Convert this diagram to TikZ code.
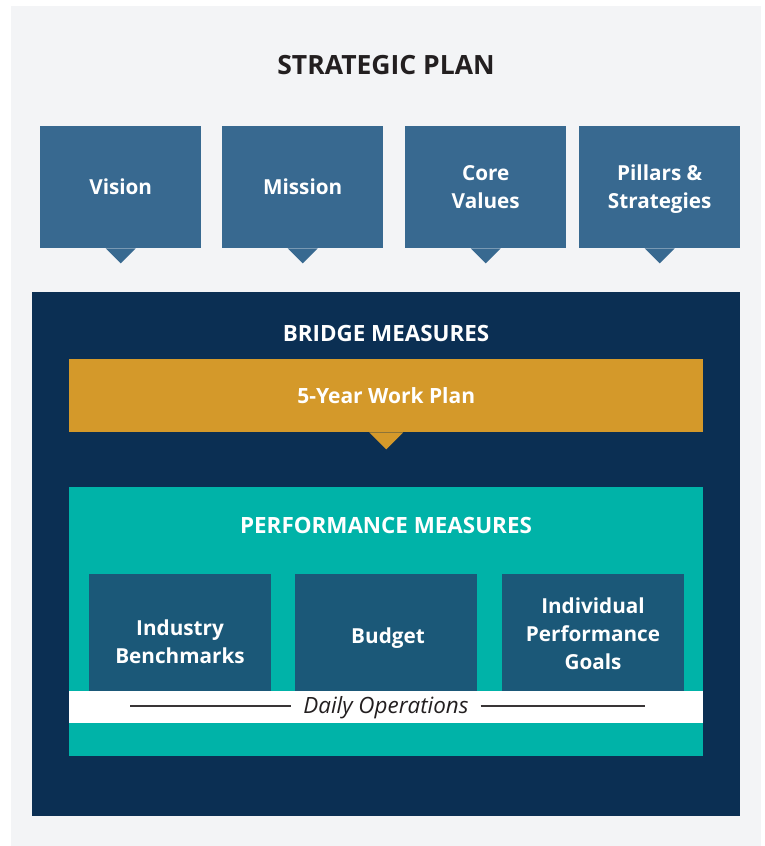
\documentclass[tikz,border=0pt]{standalone}
\usepackage{fontspec}
\setmainfont{Open Sans}
\usepackage{xcolor}

\definecolor{fonGray}{HTML}{F3F4F6}
\definecolor{topBlue}{HTML}{386990}
\definecolor{navyBlue}{HTML}{0B2F53}
\definecolor{goldPlan}{HTML}{D4992A}
\definecolor{tealPerf}{HTML}{00B3A8}
\definecolor{innerBlue}{HTML}{1B5878}
\definecolor{titleInk}{HTML}{231F20}

\begin{document}
\begin{tikzpicture}[x=1pt,y=-1pt,
    topbox/.style={fill=topBlue, anchor=north west, inner sep=0pt, minimum width=161pt, minimum height=122pt},
    perfbox/.style={fill=innerBlue, anchor=north west, inner sep=0pt, minimum width=182pt, minimum height=117pt},
    boxtext/.style={text=white, align=center, font=\bfseries\fontsize{20.7}{28}\selectfont},
    headtext/.style={text=white, font=\bfseries\fontsize{22.4}{26}\selectfont}]

        % Фон
        \useasboundingbox (0,0) rectangle (764,846);
        \fill[white] (0,0) rectangle (764,846);
        \fill[fonGray] (11,6) rectangle (761,846);

        \node[text=titleInk, font=\bfseries\fontsize{26.5}{30}\selectfont] (plan) at (386,65) {STRATEGIC PLAN};

        % Верхние блоки
        \node[topbox] (vision) at (40,126) {};
        \node[topbox] (mission) at (222,126) {};
        \node[topbox] (values) at (405,126) {};
        \node[topbox] (pillars) at (579,126) {};
        \foreach \b in {vision,mission,values,pillars}
            \fill[topBlue] ([xshift=-15pt]\b.south) -- ++(15,15) -- ++(15,-15) -- cycle;

        \node[boxtext] (tVision) at (vision.center) {Vision};
        \node[boxtext] (tMission) at (mission.center) {Mission};
        \node[boxtext] (tValues) at (values.center) {Core\\Values};
        \node[boxtext] (tPillars) at ([yshift=-2pt]pillars.center) {Pillars \&\\Strategies};

        % Промежуточные показатели
        \fill[navyBlue] (32,292) rectangle (740,816);
        \node[headtext] (bridge) at (386,333) {BRIDGE MEASURES};

        \node[fill=goldPlan, anchor=north west, inner sep=0pt, minimum width=634pt, minimum height=73pt] (work) at (69,359) {};
        \fill[goldPlan] ([xshift=-17pt]work.south) -- ++(17,17) -- ++(17,-17) -- cycle;
        \node[boxtext, font=\bfseries\fontsize{21}{26}\selectfont] (tWork) at (work.center) {5-Year Work Plan};

        % Показатели эффективности
        \fill[tealPerf] (69,487) rectangle (703,756);
        \node[headtext] (perf) at (386,525) {PERFORMANCE MEASURES};

        \node[perfbox] (bench) at (89,574) {};
        \node[perfbox] (budget) at (295,574) {};
        \node[perfbox] (goals) at (502,574) {};

        \node[boxtext] (tBench) at (180,642) {Industry\\Benchmarks};
        \node[boxtext] (tBudget) at (388,638) {Budget};
        \node[boxtext] (tGoals) at (593,634) {Individual\\Performance\\Goals};

        % Ежедневная работа
        \fill[white] (69,691) rectangle (703,723);
        \node[text=titleInk, inner xsep=12pt, font=\itshape\fontsize{22.4}{26}\selectfont] (daily) at (386,708) {Daily Operations};
        \coordinate (dLeft) at (130,706);
        \coordinate (dRight) at (645,706);
        \draw[titleInk!90, line width=1.8pt] (dLeft) -- (dLeft -| daily.west);
        \draw[titleInk!90, line width=1.8pt] (dRight -| daily.east) -- (dRight);
    \end{tikzpicture}
\end{document}
